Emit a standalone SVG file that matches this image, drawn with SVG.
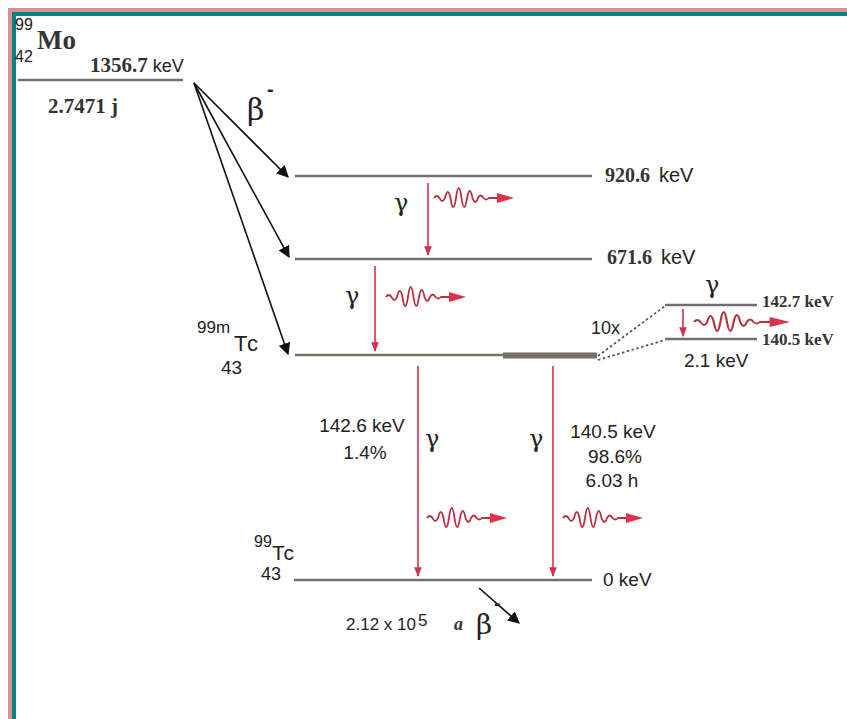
<svg xmlns="http://www.w3.org/2000/svg" xmlns:xlink="http://www.w3.org/1999/xlink" width="847" height="719" viewBox="0 0 847 719">
<style>
.lvl{stroke:#707070;stroke-width:2.5;fill:none}
.sans{font-family:"Liberation Sans",Arial,sans-serif;fill:#222}
.serb{font-family:"Liberation Serif","Times New Roman",serif;font-weight:bold;fill:#333}
.ser{font-family:"DejaVu Serif","Liberation Serif",serif;fill:#222}
.beta{stroke:#111;stroke-width:1.6;fill:none}
.gam{stroke:#d4304c;stroke-width:1.6;fill:none}
.wv{stroke:#b8303e;stroke-width:1.8;fill:none}
.dot{stroke:#555;stroke-width:1.8;stroke-dasharray:2.5 2.5;fill:none}
</style>
<defs>
<marker id="ab" viewBox="0 0 10 10" refX="9" refY="5" markerWidth="7.5" markerHeight="7.5" orient="auto" markerUnits="strokeWidth"><path d="M0,0 L10,5 L0,10 z" fill="#111"/></marker>
<marker id="ar" viewBox="0 0 10 10" refX="9" refY="5" markerWidth="6" markerHeight="6" orient="auto" markerUnits="strokeWidth"><path d="M0,1 L10,5 L0,9 z" fill="#d4304c"/></marker>
<g id="wave">
<path class="wv" d="M0,0 Q2.75,-4 5.5,0 Q8.25,6 11,0 Q13.75,-12 16.5,0 Q19.25,18 22,0 Q24.75,-20 27.5,0 Q30.25,18 33,0 Q35.75,-14 38.5,0 Q41.25,8 44,0 Q46.75,-5 49.5,0 Q52.25,3 55,0 L66,0"/>
<path d="M63,-5 L80,0 L63,5 z" fill="#e0304a"/>
</g>
</defs>
<rect x="0" y="0" width="847" height="719" fill="#ffffff"/>
<rect x="8" y="8" width="900" height="800" fill="#d89090"/>
<rect x="12" y="12" width="900" height="800" fill="#0b8080"/>
<rect x="16" y="16" width="900" height="800" fill="#ffffff"/>

<g id="mo">
<text class="sans" x="15" y="30" font-size="16">99</text>
<text class="sans" x="15" y="62" font-size="16">42</text>
<text class="serb" x="37" y="49" font-size="27">Mo</text>
<line class="lvl" x1="18" y1="80" x2="183" y2="80"/>
<text x="90" y="72" font-size="21"><tspan class="serb">1356.7</tspan><tspan class="sans" dx="5" font-size="18">keV</tspan></text>
<text class="serb" x="48" y="113" font-size="21">2.7471 j</text>
</g>

<g id="connectors">
<line class="beta" x1="194" y1="83" x2="288" y2="177" marker-end="url(#ab)"/>
<line class="beta" x1="194" y1="83" x2="289" y2="257" marker-end="url(#ab)"/>
<line class="beta" x1="194" y1="83" x2="288" y2="354" marker-end="url(#ab)"/>
<line class="gam" x1="428" y1="183" x2="428" y2="255" marker-end="url(#ar)"/>
<line class="gam" x1="375" y1="266" x2="375" y2="351" marker-end="url(#ar)"/>
<line class="gam" x1="418" y1="366" x2="418" y2="576" marker-end="url(#ar)"/>
<line class="gam" x1="553" y1="366" x2="553" y2="576" marker-end="url(#ar)"/>
<line class="gam" x1="683" y1="309" x2="683" y2="336" marker-end="url(#ar)"/>
<line class="dot" x1="598" y1="356" x2="665" y2="306"/>
<line class="dot" x1="598" y1="360" x2="665" y2="340"/>
<line class="beta" x1="479" y1="588" x2="519" y2="623" marker-end="url(#ab)"/>
</g>

<g id="labels">
<text class="ser" x="247" y="120" font-size="30">β</text>
<text class="sans" x="267" y="96" font-size="20" font-weight="bold">-</text>
<text class="ser" x="394" y="211" font-size="24">γ</text>
<text class="ser" x="345" y="304" font-size="24">γ</text>
<text class="ser" x="425" y="447" font-size="24">γ</text>
<text class="ser" x="529" y="447" font-size="24">γ</text>
<text class="ser" x="705" y="293" font-size="24">γ</text>
</g>

<g id="waves">
<use xlink:href="#wave" transform="translate(434,198)"/>
<use xlink:href="#wave" transform="translate(386,297)"/>
<use xlink:href="#wave" transform="translate(427,518)"/>
<use xlink:href="#wave" transform="translate(563,518)"/>
<use xlink:href="#wave" transform="translate(694,322) scale(1.2,1)"/>
</g>

<g id="level920">
<line class="lvl" x1="295" y1="176" x2="592" y2="176"/>
<text x="605" y="182" font-size="20"><tspan class="serb">920.6</tspan><tspan class="sans" dx="9" font-size="20">keV</tspan></text>
</g>
<g id="level671">
<line class="lvl" x1="295" y1="259" x2="592" y2="259"/>
<text x="607" y="264" font-size="20"><tspan class="serb">671.6</tspan><tspan class="sans" dx="9" font-size="20">keV</tspan></text>
</g>
<g id="tc99m">
<text class="sans" x="197" y="333" font-size="17">99m</text>
<text class="sans" x="234" y="351" font-size="22" letter-spacing="2">Tc</text>
<text class="sans" x="221" y="374" font-size="19">43</text>
<line x1="295" y1="355" x2="505" y2="355" stroke="#787060" stroke-width="2.5"/>
<rect x="503" y="352.5" width="94" height="6" fill="#787060"/>
</g>
<g id="inset">
<line class="lvl" x1="665" y1="305" x2="757" y2="305"/>
<line class="lvl" x1="665" y1="339" x2="757" y2="339"/>
<text class="sans" x="591" y="334" font-size="18">10x</text>
<text class="serb" x="762" y="307" font-size="17">142.7 keV</text>
<text class="serb" x="762" y="345" font-size="17">140.5 keV</text>
<text class="sans" x="684" y="367" font-size="19">2.1 keV</text>
</g>
<g id="transitions">
<text class="sans" x="362" y="432" font-size="19" text-anchor="middle">142.6 keV</text>
<text class="sans" x="365" y="459" font-size="19" text-anchor="middle">1.4%</text>
<text class="sans" x="613" y="438" font-size="19" text-anchor="middle">140.5 keV</text>
<text class="sans" x="615" y="463" font-size="19" text-anchor="middle">98.6%</text>
<text class="sans" x="612" y="487" font-size="19" text-anchor="middle">6.03 h</text>
</g>
<g id="tc99">
<text class="sans" x="254" y="547" font-size="16">99</text>
<text class="sans" x="272" y="560" font-size="21" letter-spacing="1">Tc</text>
<text class="sans" x="261" y="580" font-size="18">43</text>
<line class="lvl" x1="294" y1="580" x2="592" y2="580"/>
<text class="sans" x="603" y="586" font-size="19">0 keV</text>
<text class="sans" x="346" y="630" font-size="17">2.12 x 10</text>
<text class="sans" x="418" y="626" font-size="17">5</text>
<text class="serb" x="454" y="630" font-size="18" font-style="italic">a</text>
<text class="ser" x="476" y="634" font-size="28">β</text>
<text class="sans" x="494" y="610" font-size="20" font-weight="bold">-</text>
</g>
</svg>
